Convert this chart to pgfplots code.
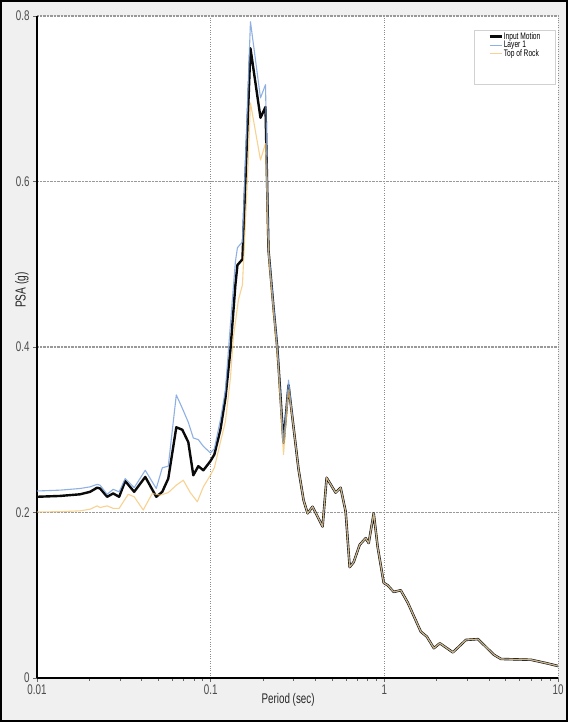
\documentclass[border=0pt]{standalone}
\usepackage{fontspec}
\setmainfont{Liberation Sans}[FakeStretch=0.7]
\usepackage{pgfplots}
\pgfplotsset{compat=1.18}
\definecolor{bgray}{HTML}{F0F0F0}
\definecolor{lay}{HTML}{7BA3DE}
\definecolor{rock}{HTML}{F5C46E}
\definecolor{inp}{HTML}{0A0A0A}
\begin{document}
\begin{tikzpicture}
\fill[bgray] (-37pt,-44pt) rectangle (531pt,678pt);
\begin{axis}[
  scale only axis, width=521pt, height=662pt,
  xmode=log, xmin=0.01, xmax=10, ymin=0, ymax=0.8,
  axis background/.style={fill=white},
  axis x line=bottom, axis y line=left,
  x axis line style={-, line width=2.6pt, black},
  y axis line style={-, line width=1.8pt, black},
  tick align=outside, major tick length=4pt,
  tick style={black!60, line width=0.6pt},
  xtick={0.01,0.1,1,10}, xticklabels={0.01,0.1,1,10},
  minor xtick={}, 
  ytick={0,0.2,0.4,0.6,0.8}, yticklabels={0,0.2,0.4,0.6,0.8},
  /pgf/number format/assume math mode=true,
  tick label style={font=\fontsize{14}{15}\selectfont, text=black!70},
  xticklabel style={yshift=1pt},
  grid=major,
  x grid style={dotted, black!45, line width=0.5pt},
  y grid style={densely dotted, black!40, line width=1.2pt},
  xlabel={Period (sec)}, ylabel={PSA (g)},
  every axis x label/.style={at={(axis description cs:0.482,-0.0332)}, anchor=center,
    font=\fontsize{14}{15}\selectfont, text=black!85},
  every axis y label/.style={at={(axis description cs:-0.0288,0.586)}, anchor=center, rotate=90,
    font=\fontsize{14.5}{15}\selectfont, text=black!85},
  legend style={at={(axis description cs:0.866,0.977)}, anchor=north west, draw=none, fill=none,
    font=\fontsize{9.5}{10}\selectfont, inner sep=0pt, row sep=-1.6pt,
    nodes={inner sep=1pt}, cells={anchor=west}},
  legend image code/.code={\draw[#1] (0pt,0pt) -- (12pt,0pt);},
]
\draw[black!18, fill=white] (axis description cs:0.839,0.979) rectangle (axis description cs:0.994,0.897);
\addplot[inp, line width=2.4pt, line join=round] coordinates {
(0.01,0.219)(0.01357,0.220)(0.01771,0.222)(0.02022,0.225)(0.02220,0.230)(0.02309,0.229)
(0.02534,0.219)(0.02745,0.223)(0.02973,0.219)(0.03220,0.238)(0.03628,0.225)(0.04201,0.243)
(0.04861,0.219)(0.05265,0.225)(0.05700,0.241)(0.06341,0.303)(0.06866,0.300)(0.07435,0.285)
(0.07947,0.245)(0.08492,0.256)(0.09077,0.251)(0.09961,0.262)(0.1050,0.270)(0.1138,0.300)
(0.1216,0.338)(0.1299,0.396)(0.1388,0.475)(0.1426,0.499)(0.1524,0.506)(0.1695,0.761)
(0.1936,0.677)(0.2069,0.690)(0.2153,0.517)(0.2300,0.448)(0.2426,0.396)(0.2627,0.284)
(0.2808,0.354)(0.3001,0.303)(0.3207,0.252)(0.3427,0.215)(0.3614,0.199)(0.3863,0.207)
(0.4411,0.183)(0.4652,0.242)(0.5243,0.224)(0.5602,0.230)(0.5989,0.201)(0.6316,0.134)
(0.6660,0.140)(0.7213,0.161)(0.7811,0.169)(0.8128,0.163)(0.8688,0.199)(0.9160,0.158)
(0.9920,0.115)(1.046,0.112)(1.133,0.104)(1.243,0.106)(1.365,0.091)(1.622,0.056)
(1.757,0.050)(1.929,0.036)(2.088,0.042)(2.481,0.031)(2.949,0.046)(3.459,0.047)
(4.279,0.028)(4.696,0.023)(6.995,0.022)(8.537,0.018)(10,0.0145)
};
\addlegendentry{Input Motion}
\addplot[lay, line width=1.1pt, opacity=0.85, line join=round] coordinates {
(0.01,0.226)(0.01357,0.227)(0.01771,0.229)(0.02022,0.231)(0.02220,0.234)(0.02309,0.233)
(0.02534,0.222)(0.02745,0.228)(0.02973,0.225)(0.03220,0.241)(0.03628,0.230)(0.04201,0.251)
(0.04861,0.229)(0.05265,0.254)(0.05700,0.256)(0.06341,0.342)(0.06866,0.326)(0.07435,0.309)
(0.07947,0.290)(0.08492,0.288)(0.09077,0.280)(0.09961,0.272)(0.1050,0.277)(0.1138,0.312)
(0.1216,0.348)(0.1299,0.427)(0.1388,0.503)(0.1426,0.520)(0.1524,0.527)(0.1695,0.793)
(0.1936,0.701)(0.2069,0.717)(0.2153,0.520)(0.2300,0.451)(0.2426,0.399)(0.2627,0.284)
(0.2808,0.360)(0.3001,0.303)(0.3207,0.252)(0.3427,0.215)(0.3614,0.199)(0.3863,0.207)
(0.4411,0.183)(0.4652,0.242)(0.5243,0.224)(0.5602,0.230)(0.5989,0.201)(0.6316,0.134)
(0.6660,0.140)(0.7213,0.161)(0.7811,0.169)(0.8128,0.163)(0.8688,0.199)(0.9160,0.158)
(0.9920,0.115)(1.046,0.112)(1.133,0.104)(1.243,0.106)(1.365,0.091)(1.622,0.056)
(1.757,0.050)(1.929,0.036)(2.088,0.042)(2.481,0.031)(2.949,0.046)(3.459,0.047)
(4.279,0.028)(4.696,0.023)(6.995,0.022)(8.537,0.018)(10,0.0145)
};
\addlegendentry{Layer 1}
\addplot[rock, line width=1.1pt, opacity=0.75, line join=round] coordinates {
(0.01,0.2006)(0.01357,0.201)(0.01771,0.202)(0.02022,0.204)(0.02220,0.208)(0.02309,0.206)
(0.02534,0.208)(0.02745,0.205)(0.02973,0.205)(0.03351,0.222)(0.03628,0.219)(0.0409,0.203)
(0.04609,0.223)(0.05126,0.221)(0.05700,0.224)(0.06341,0.233)(0.06958,0.239)(0.07636,0.224)
(0.08381,0.213)(0.09077,0.231)(0.09961,0.245)(0.1050,0.254)(0.1138,0.285)(0.1216,0.310)
(0.1299,0.362)(0.1352,0.412)(0.1445,0.457)(0.1524,0.475)(0.1628,0.602)(0.1695,0.695)
(0.1936,0.626)(0.2069,0.646)(0.2153,0.511)(0.2300,0.442)(0.2426,0.390)(0.2627,0.270)
(0.2808,0.348)(0.3001,0.303)(0.3207,0.252)(0.3427,0.215)(0.3614,0.199)(0.3863,0.207)
(0.4411,0.183)(0.4652,0.242)(0.5243,0.224)(0.5602,0.230)(0.5989,0.201)(0.6316,0.134)
(0.6660,0.140)(0.7213,0.161)(0.7811,0.169)(0.8128,0.163)(0.8688,0.199)(0.9160,0.158)
(0.9920,0.115)(1.046,0.112)(1.133,0.104)(1.243,0.106)(1.365,0.091)(1.622,0.056)
(1.757,0.050)(1.929,0.036)(2.088,0.042)(2.481,0.031)(2.949,0.046)(3.459,0.047)
(4.279,0.028)(4.696,0.023)(6.995,0.022)(8.537,0.018)(10,0.0145)
};
\addlegendentry{Top of Rock}
\end{axis}
\draw[black, line width=2pt] (-36pt,-43pt) rectangle (530pt,677pt);
\end{tikzpicture}
\end{document}
